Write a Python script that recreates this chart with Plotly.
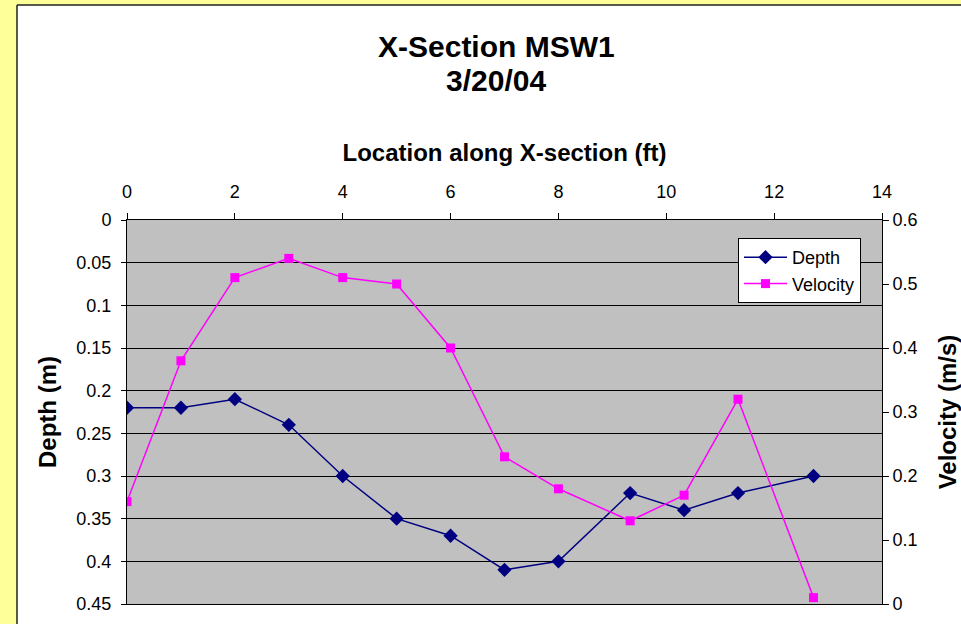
import plotly.graph_objects as go

location_ft = [0, 1, 2, 3, 4, 5, 6, 7, 8, 9.33, 10.33, 11.33, 12.73]
depth_m = [0.22, 0.22, 0.21, 0.24, 0.30, 0.35, 0.37, 0.41, 0.40, 0.32, 0.34, 0.32, 0.30]
velocity_ms = [0.16, 0.38, 0.51, 0.54, 0.51, 0.50, 0.40, 0.23, 0.18, 0.13, 0.17, 0.32, 0.01]
title_lines = ["X-Section MSW1", "3/20/04"]

W, H = 961, 624
L, R, T, B = 127, 882, 220, 604
FONT = "Arial, 'Liberation Sans', sans-serif"

def px(X):
    return (X - L) / (R - L)

def py(Y):
    return (B - Y) / (B - T)

fig = go.Figure()
fig.add_trace(go.Scatter(
    x=location_ft, y=depth_m, name="Depth", mode="lines+markers",
    line=dict(color="#000080", width=1.5),
    marker=dict(symbol="diamond", size=11, color="#000080"),
    xaxis="x", yaxis="y"))
fig.add_trace(go.Scatter(
    x=location_ft, y=velocity_ms, name="Velocity", mode="lines+markers",
    line=dict(color="#FF00FF", width=1.5),
    marker=dict(symbol="square", size=9, color="#FF00FF"),
    xaxis="x", yaxis="y2"))

shapes = [
    dict(type="rect", xref="paper", yref="paper", x0=-1, x1=px(17), y0=-1, y1=3,
         fillcolor="#FFFF99", line=dict(width=0), layer="below"),
    dict(type="rect", xref="paper", yref="paper", x0=-1, x1=3, y0=py(5), y1=3,
         fillcolor="#FFFF99", line=dict(width=0), layer="below"),
    dict(type="line", xref="paper", yref="paper", x0=px(17), x1=px(17), y0=-1, y1=py(5),
         line=dict(color="#222222", width=1.5)),
    dict(type="line", xref="paper", yref="paper", x0=px(17), x1=3, y0=py(5), y1=py(5),
         line=dict(color="#222222", width=1.5)),
]

annotations = [
    dict(text="<b>%s</b>" % title_lines[0], xref="paper", yref="paper", x=px(496), y=py(46),
         xanchor="center", yanchor="middle", showarrow=False,
         font=dict(size=30, family=FONT, color="black")),
    dict(text="<b>%s</b>" % title_lines[1], xref="paper", yref="paper", x=px(496), y=py(80),
         xanchor="center", yanchor="middle", showarrow=False,
         font=dict(size=30, family=FONT, color="black")),
]

fig.update_layout(
    width=W, height=H,
    margin=dict(l=L, r=W - R, t=T, b=H - B, autoexpand=False),
    paper_bgcolor="white", plot_bgcolor="#C0C0C0",
    font=dict(family=FONT, size=18, color="black"),
    showlegend=True,
    legend=dict(x=px(861), y=py(238), xanchor="right", yanchor="top",
                bgcolor="white", bordercolor="black", borderwidth=1,
                font=dict(size=18), itemwidth=43, tracegroupgap=0),
    shapes=shapes,
    annotations=annotations,
    xaxis=dict(range=[0, 14], dtick=2, side="top", showgrid=False, zeroline=False,
               showline=True, linecolor="black", linewidth=1, mirror=True,
               ticks="outside", ticklen=6, tickcolor="black", ticklabelstandoff=8,
               title=dict(text="<b>Location along X-section (ft)</b>", font=dict(size=24), standoff=13),
               automargin=False),
    yaxis=dict(range=[0.45, 0], dtick=0.05, showgrid=True, gridcolor="black", gridwidth=1,
               zeroline=False, showline=True, linecolor="black", linewidth=1,
               ticks="outside", ticklen=5, tickcolor="black", ticklabelstandoff=6,
               title=dict(text="<b>Depth (m)</b>", font=dict(size=24), standoff=12),
               automargin=False),
    yaxis2=dict(range=[0, 0.6], dtick=0.1, overlaying="y", side="right", showgrid=False,
                zeroline=False, showline=True, linecolor="black", linewidth=1,
                ticks="outside", ticklen=6, tickcolor="black",
                title=dict(text="<b>Velocity (m/s)</b>", font=dict(size=24), standoff=23),
                automargin=False),
    yaxis3=dict(range=[0, 0.6], dtick=0.1, overlaying="y", side="right", showgrid=False,
                zeroline=False, showline=False, ticks="inside", ticklen=6, tickcolor="black",
                showticklabels=False, automargin=False),
)

fig.write_html("out.html", config={"displayModeBar": False},
               post_script="document.body.style.margin='0';document.body.style.overflow='hidden';")
